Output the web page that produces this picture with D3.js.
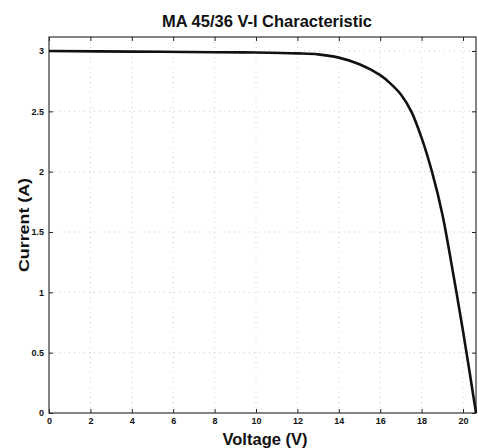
<!DOCTYPE html>
<html>
<head>
<meta charset="utf-8">
<script src="https://cdn.jsdelivr.net/npm/d3@7"></script>
<style>
    body { margin: 0; background: #fff; }
    .chart text { font-family: 'Liberation Sans', Arial, sans-serif; font-weight: bold; fill: #111; }
    .axis text { font-size: 9px; }
    .axis line { stroke: #222; }
</style>
</head>
<body>
<div class="chart"></div>
<script>
// DATA ------------------------------------
const voltage = [0, 4, 8, 10, 12, 13, 14, 15, 16, 16.5, 17, 17.5, 18, 18.5, 19, 19.5, 20, 20.3, 20.5, 20.63];
const current = [3.0, 2.995, 2.99, 2.987, 2.98, 2.972, 2.945, 2.89, 2.8, 2.73, 2.64, 2.5, 2.28, 2.0, 1.65, 1.18, 0.68, 0.36, 0.14, 0];
const xTicks = [0, 2, 4, 6, 8, 10, 12, 14, 16, 18, 20];
const yTicks = [0, 0.5, 1, 1.5, 2, 2.5, 3];

// CHART INIT ------------------------------
const margin = { top: 37, right: 2, bottom: 35, left: 49 },
    width = 478 - margin.left - margin.right,
    height = 448 - margin.top - margin.bottom;

const svg = d3.select('.chart')
    .append('svg')
    .attr('width', 478)
    .attr('height', 448);

const group = svg.append('g')
    .attr('transform', 'translate(' + margin.left + ',' + margin.top + ')');

const xScale = d3.scaleLinear()
    .domain([0, 20 * width / 414])
    .range([0, width]);

const yScale = d3.scaleLinear()
    .domain([0, 3 * height / 362])
    .range([height, 0]);

// faint dotted grid
group.append('g')
    .selectAll('line')
    .data(xTicks.slice(1))
    .join('line')
    .attr('x1', d => xScale(d)).attr('x2', d => xScale(d))
    .attr('y1', 0).attr('y2', height)
    .attr('stroke', '#bbb')
    .attr('stroke-dasharray', '1,4')
    .attr('opacity', 0.7);

group.append('g')
    .selectAll('line')
    .data(yTicks.slice(1))
    .join('line')
    .attr('x1', 0).attr('x2', width)
    .attr('y1', d => yScale(d)).attr('y2', d => yScale(d))
    .attr('stroke', '#bbb')
    .attr('stroke-dasharray', '1,4')
    .attr('opacity', 0.7);

// axes with inward ticks
const xAxis = d3.axisBottom(xScale).tickValues(xTicks).tickSizeInner(-4).tickSizeOuter(0).tickPadding(5);
const yAxis = d3.axisLeft(yScale).tickValues(yTicks).tickSizeInner(-4).tickSizeOuter(0).tickPadding(5).tickFormat(d => d);
const xTop = d3.axisTop(xScale).tickValues(xTicks).tickSizeInner(-4).tickSizeOuter(0).tickFormat('');
const yRight = d3.axisRight(yScale).tickValues(yTicks).tickSizeInner(-4).tickSizeOuter(0).tickFormat('');

group.append('g').attr('class', 'axis x-axis')
    .attr('transform', `translate(0, ${height})`).call(xAxis);
group.append('g').attr('class', 'axis y-axis').call(yAxis);
group.append('g').attr('class', 'axis').call(xTop).selectAll('text').remove();
group.append('g').attr('class', 'axis')
    .attr('transform', `translate(${width}, 0)`).call(yRight).selectAll('text').remove();
group.selectAll('.domain').remove();

// frame
group.append('rect')
    .attr('width', width)
    .attr('height', height)
    .attr('fill', 'none')
    .attr('stroke', '#333')
    .attr('stroke-width', 1.2);

// V-I curve
const points = voltage.map((v, i) => [v, current[i]]);
const line = d3.line()
    .x(d => xScale(d[0]))
    .y(d => yScale(d[1]))
    .curve(d3.curveCatmullRom.alpha(0.5));

group.append('path')
    .datum(points)
    .attr('d', line)
    .attr('fill', 'none')
    .attr('stroke', '#111')
    .attr('stroke-width', 2.6);

// titles
svg.append('text')
    .attr('x', 267)
    .attr('y', 27)
    .attr('text-anchor', 'middle')
    .attr('font-size', 17)
    .attr('textLength', 210)
    .attr('lengthAdjust', 'spacingAndGlyphs')
    .text('MA 45/36 V-I Characteristic');

svg.append('text')
    .attr('x', 265)
    .attr('y', 445)
    .attr('text-anchor', 'middle')
    .attr('font-size', 16)
    .attr('textLength', 85)
    .attr('lengthAdjust', 'spacingAndGlyphs')
    .text('Voltage (V)');

svg.append('text')
    .attr('transform', 'translate(29, 225) rotate(-90)')
    .attr('text-anchor', 'middle')
    .attr('font-size', 15)
    .attr('textLength', 94)
    .attr('lengthAdjust', 'spacingAndGlyphs')
    .text('Current (A)');
</script>
</body>
</html>
